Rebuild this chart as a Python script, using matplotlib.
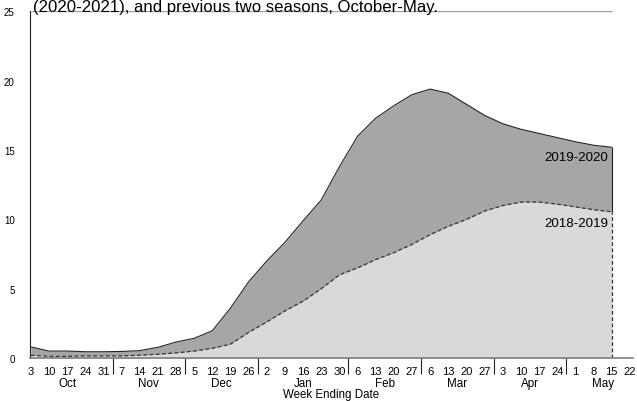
import numpy as np
import matplotlib
matplotlib.use("Agg")
import matplotlib.pyplot as plt

plt.rcParams["font.family"] = ["Liberation Sans", "DejaVu Sans"]

# week-ending dates, Oct 3 .. May 22
months = ["Oct", "Nov", "Dec", "Jan", "Feb", "Mar", "Apr", "May"]
month_days = [
    [3, 10, 17, 24, 31],
    [7, 14, 21, 28],
    [5, 12, 19, 26],
    [2, 9, 16, 23, 30],
    [6, 13, 20, 27],
    [6, 13, 20, 27],
    [3, 10, 17, 24],
    [1, 8, 15, 22],
]

# Oct 3 .. May 15 (33 weeks)
s2019_2020 = [0.8, 0.5, 0.5, 0.45, 0.45, 0.47, 0.53, 0.77, 1.15, 1.42, 1.97,
              3.6, 5.5, 7.0, 8.35, 9.9, 11.4, 13.8, 16.0, 17.3, 18.2, 19.0,
              19.4, 19.1, 18.3, 17.5, 16.9, 16.5, 16.2, 15.9, 15.6, 15.35, 15.2]
s2018_2019 = [0.2, 0.12, 0.12, 0.15, 0.15, 0.15, 0.2, 0.27, 0.37, 0.5, 0.7,
              1.0, 1.85, 2.6, 3.4, 4.1, 5.0, 6.0, 6.5, 7.1, 7.6, 8.2, 8.9,
              9.5, 10.0, 10.6, 11.0, 11.25, 11.25, 11.1, 10.9, 10.7, 10.55]

fig = plt.figure(figsize=(6.37, 4.02), dpi=100)
ax = fig.add_axes([0.047, 0.107, 0.946, 0.862])

x = np.arange(len(s2019_2020))
ax.fill_between(x, 0, s2019_2020, color="#a6a6a6", lw=0)
ax.plot(x, s2019_2020, color="#222222", lw=0.8)
ax.vlines(x[-1], s2018_2019[-1], s2019_2020[-1], color="#222222", lw=0.8)
ax.fill_between(x, 0, s2018_2019, color="#d9d9d9", lw=0)
ax.plot(x, s2018_2019, color="#333333", lw=0.9, ls=(0, (3, 2)))
ax.vlines(x[-1], 0, s2018_2019[-1], color="#333333", lw=0.9, ls=(0, (3, 2)))
ax.hlines(25, 0, x[-1], color="#a0a0a0", lw=1)

ax.text(x[-1] - 0.2, 14.95, "2019-2020", ha="right", va="top", fontsize=9.6)
ax.text(x[-1] - 0.2, 10.2, "2018-2019", ha="right", va="top", fontsize=9.6)

days = [d for m in month_days for d in m]
ax.set_xlim(-0.05, len(days) - 0.85)
ax.set_ylim(0, 25)
ax.set_xticks(range(len(days)))
ax.set_xticklabels([str(d) for d in days], fontsize=8)
ax.tick_params(axis="x", length=0, pad=6)

# month separators and month names
bounds = np.cumsum([len(m) for m in month_days])
ax.set_xticks(bounds[:-1] - 0.5, minor=True)
ax.tick_params(axis="x", which="minor", length=11.5, width=0.8, color="#222222")
for i, m in enumerate(months):
    start = bounds[i] - len(month_days[i])
    mid = (start + bounds[i] - 1) / 2
    ax.text(mid, -1.4, m, ha="center", va="top", fontsize=8.4)
fig.text(0.5205, 0.002, "Week Ending Date", ha="center", va="bottom", fontsize=8.3)

ax.set_yticks([0, 5, 10, 15, 20, 25])
ax.tick_params(axis="y", length=0, pad=11, labelsize=7)

for s in ["top", "right"]:
    ax.spines[s].set_visible(False)
ax.spines["left"].set_color("#222222")
ax.spines["left"].set_linewidth(0.8)
ax.spines["bottom"].set_color("#808080")
ax.spines["bottom"].set_linewidth(1.2)

fig.text(0.052, 0.971, "(2020-2021), and previous two seasons, October-May.",
         ha="left", va="baseline", fontsize=12.1)

fig.savefig("out.png", dpi=100)
